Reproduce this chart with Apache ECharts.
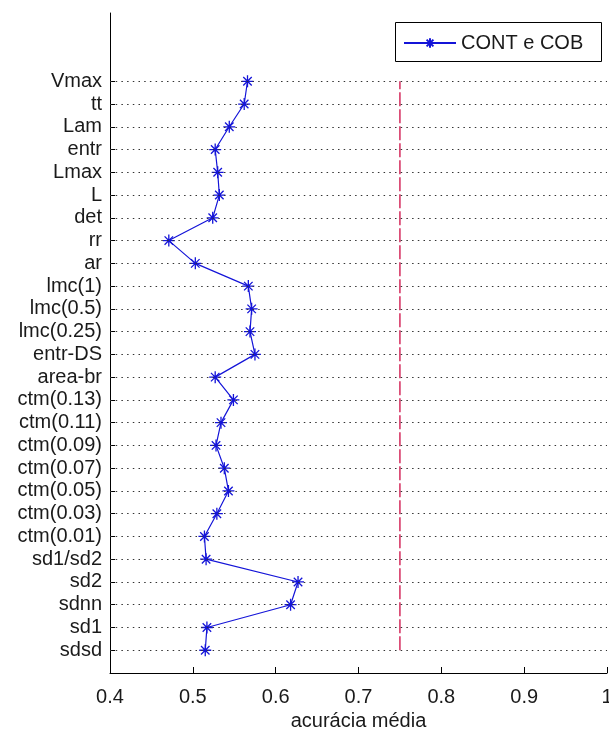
<!DOCTYPE html>
<html>
<head>
<meta charset="utf-8">
<script src="https://cdn.jsdelivr.net/npm/echarts@6/dist/echarts.min.js"></script>
<style>
html,body{margin:0;padding:0;background:#fff;}
#chart{width:609px;height:733px;}
</style>
</head>
<body>
<div id="chart"></div>
<script>
// Categories listed top to bottom as in the figure
const categories = ['Vmax','tt','Lam','entr','Lmax','L','det','rr','ar','lmc(1)','lmc(0.5)','lmc(0.25)','entr-DS','area-br','ctm(0.13)','ctm(0.11)','ctm(0.09)','ctm(0.07)','ctm(0.05)','ctm(0.03)','ctm(0.01)','sd1/sd2','sd2','sdnn','sd1','sdsd'];
// Mean accuracy for each category (same order)
const accuracy = [0.566,0.562,0.544,0.527,0.530,0.532,0.524,0.471,0.503,0.567,0.571,0.569,0.575,0.527,0.549,0.534,0.528,0.538,0.543,0.529,0.514,0.516,0.627,0.618,0.517,0.515];
const seriesName = 'CONT e COB';
const threshold = 0.75;
const xTicks = [0.4,0.5,0.6,0.7,0.8,0.9,1.0];
const xTitle = 'acurácia média';

const N = categories.length;
const posOf = i => N - i; // top category at N, bottom at 1
const yPositions = categories.map((c, i) => posOf(i));
const seriesData = accuracy.map((v, i) => [v, posOf(i)]);
const FONT = '"Liberation Sans", Arial, sans-serif';
const star = 'path://M0,5L10,5M5,0L5,10M1.46,1.46L8.54,8.54M1.46,8.54L8.54,1.46';

const chart = echarts.init(document.getElementById('chart'), null, {renderer: 'canvas'});
chart.setOption({
  backgroundColor: '#ffffff',
  animation: false,
  grid: {left: 110, right: 2, top: 13, bottom: 60, containLabel: false, outerBoundsMode: 'none'},
  xAxis: {
    type: 'value',
    min: xTicks[0], max: xTicks[xTicks.length - 1], interval: 0.1,
    name: xTitle, nameLocation: 'middle', nameGap: 37,
    nameTextStyle: {fontFamily: FONT, fontSize: 20, color: '#1a1a1a'},
    axisLine: {show: true, onZero: false, lineStyle: {color: '#000', width: 1}},
    axisTick: {show: true, inside: true, length: 6, lineStyle: {color: '#000'}},
    axisLabel: {fontFamily: FONT, fontSize: 20, color: '#1a1a1a', margin: 14,
      formatter: v => String(Math.round(v * 10) / 10)},
    splitLine: {show: false}
  },
  yAxis: {
    type: 'value', min: 0, max: 29,
    axisLine: {show: true, onZero: false, lineStyle: {color: '#000', width: 1}},
    axisTick: {show: true, inside: true, length: 5, customValues: yPositions, lineStyle: {color: '#000'}},
    axisLabel: {fontFamily: FONT, fontSize: 20, color: '#1a1a1a', margin: 8,
      customValues: yPositions,
      formatter: v => { const i = N - v; return categories[i] || ''; }},
    splitLine: {show: false}
  },
  legend: {
    data: [seriesName], left: 403, top: 33, padding: 0,
    itemWidth: 52, itemHeight: 12, itemGap: 0,
    textStyle: {fontFamily: FONT, fontSize: 20, color: '#1a1a1a', padding: [0,0,0,0]}
  },
  graphic: [{
    type: 'rect', shape: {x: 395.5, y: 22.5, width: 206, height: 39},
    style: {fill: 'none', stroke: '#000', lineWidth: 1}, z: 100, silent: true
  }],
  series: [
    {
      name: 'grid', type: 'line', data: [], z: 1, silent: true,
      markLine: {
        symbol: 'none', silent: true, label: {show: false},
        lineStyle: {color: '#333', type: [1.5, 4.2], width: 1},
        data: yPositions.map(p => ({yAxis: p}))
      }
    },
    {
      name: 'threshold', type: 'line', z: 2, silent: true,
      data: [[threshold, 1], [threshold, N]],
      symbol: 'none',
      lineStyle: {color: '#d42a5c', type: [14, 3], width: 1.5}
    },
    {
      name: seriesName, type: 'line', z: 3,
      data: seriesData,
      symbol: star, symbolSize: 12, symbolKeepAspect: true,
      lineStyle: {color: '#1414d8', width: 1.2},
      itemStyle: {color: '#1414d8', borderColor: '#1414d8', borderWidth: 1.3}
    }
  ]
});
</script>
</body>
</html>
